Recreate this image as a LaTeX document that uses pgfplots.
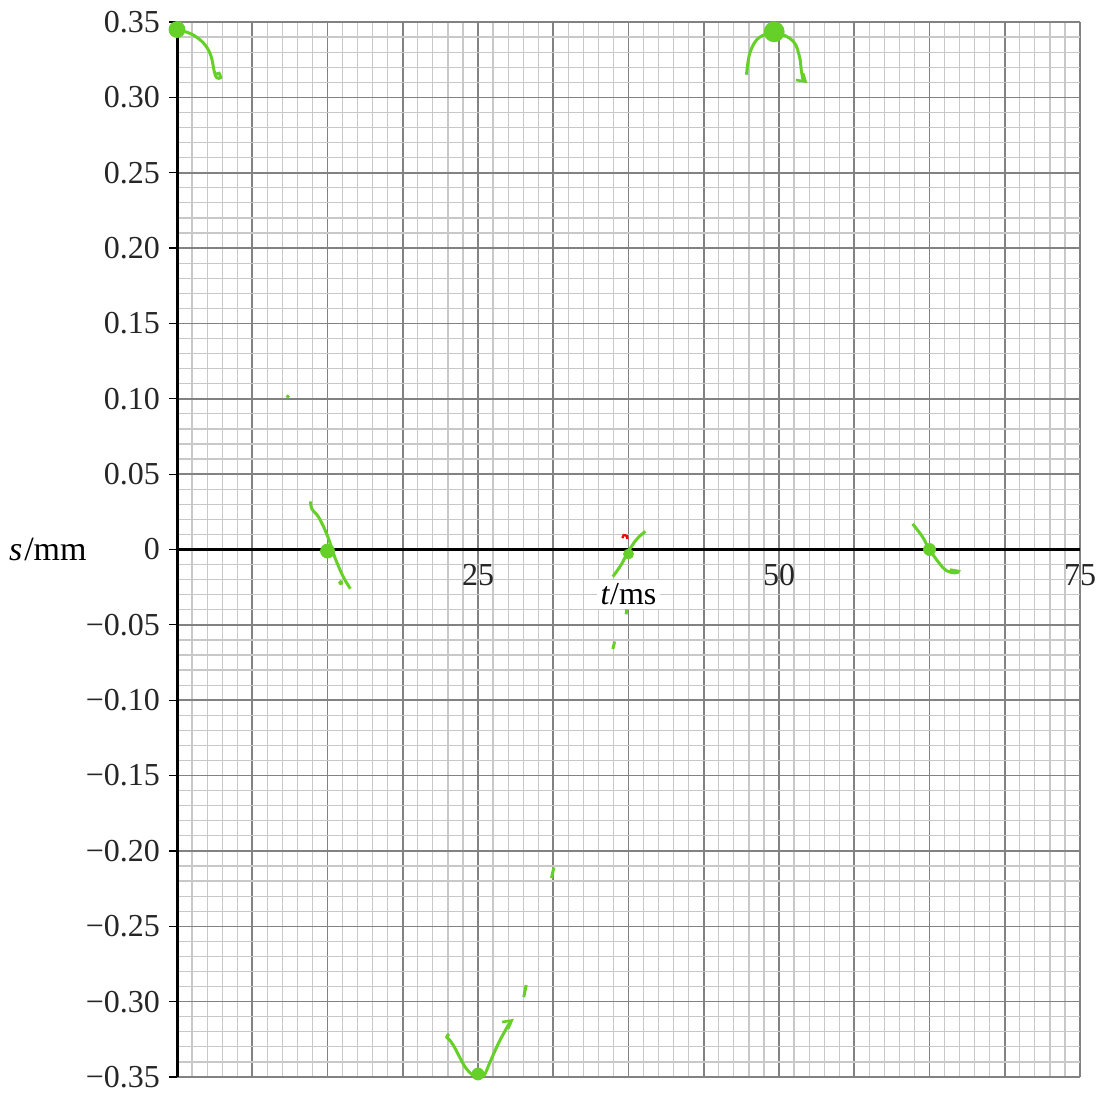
\documentclass[border=0pt]{standalone}
\usepackage{pgfplots}
\pgfplotsset{compat=1.18}
\usepackage{fontspec}
\setmainfont{Liberation Serif}
\definecolor{pen}{RGB}{100,208,40}
\definecolor{majgrid}{RGB}{130,130,130}
\definecolor{mingrid}{RGB}{200,200,200}
\begin{document}
\begin{tikzpicture}
\begin{axis}[
  scale only axis, width=451.5pt, height=527.5pt,
  xmin=0, xmax=75, ymin=-0.35, ymax=0.35,
  axis x line*=middle, axis y line*=left,
  axis line style={line width=1.5pt, black},
  xtick={0,6.25,12.5,18.75,25,31.25,37.5,43.75,50,56.25,62.5,68.75,75},
  xticklabels={,,,,25,,,,50,,,,75},
  minor x tick num=4,
  ytick={-0.35,-0.3,-0.25,-0.2,-0.15,-0.1,-0.05,0,0.05,0.1,0.15,0.2,0.25,0.3,0.35},
  yticklabels={−0.35,−0.30,−0.25,−0.20,−0.15,−0.10,−0.05,0,0.05,0.10,0.15,0.20,0.25,0.30,0.35},
  minor y tick num=4,
  grid=both,
  major grid style={majgrid, line width=0.8pt},
  minor grid style={mingrid, line width=0.6pt},
  tick label style={font=\fontsize{16}{18}\selectfont, text=black!85},
  xtick style={draw=none},
  ytick align=outside,
  major tick length=4pt, minor tick length=0pt,
  ytick style={black, line width=0.6pt},
  yticklabel style={xshift=-1pt},
  xticklabel style={yshift=-4pt},
  xlabel={\textit{t}/ms},
  xlabel style={at={(axis cs:37.5,0)}, anchor=center, yshift=-22.5pt, fill=white, inner sep=2pt, font=\fontsize{16}{18}\selectfont},
  ylabel={\textit{s}\kern1pt/mm},
  ylabel style={at={(axis cs:0,0)}, rotate=-90, anchor=east, xshift=-45pt, inner sep=0pt, font=\fontsize{17}{19}\selectfont},
  clip=false,
]
% mark at (0, 0.345)
\addplot[pen, line width=1.5pt, smooth, tension=0.6] coordinates {(0,0.345) (1.2,0.342) (2.2,0.336) (2.8,0.328) (3.1,0.317) (3.3,0.313) (3.6,0.313) (3.5,0.316) (3.2,0.315)};
\addplot[pen, only marks, mark=*, mark size=4pt] coordinates {(0,0.345)};
% mark near (12.5, 0)
\addplot[pen, line width=1.5pt, smooth, tension=0.6] coordinates {(11.1,0.032) (11.2,0.027) (11.8,0.021) (12.5,0.009) (13.1,-0.005) (13.8,-0.018) (14.4,-0.026)};
\addplot[pen, only marks, mark=*, mark size=3.5pt] coordinates {(12.5,-0.001)};
\addplot[pen, only marks, mark=*, mark size=1pt] coordinates {(13.6,-0.022)};
% mark near (37.5, 0)
\addplot[pen, line width=1.5pt, smooth, tension=0.6] coordinates {(36.2,-0.018) (36.9,-0.010) (37.5,-0.001) (38.2,0.007) (38.9,0.012)};
\addplot[pen, only marks, mark=*, mark size=2.5pt] coordinates {(37.5,-0.003)};
\addplot[red, line width=1.2pt, smooth] coordinates {(37.0,0.0075) (37.1,0.0095) (37.35,0.009) (37.4,0.007)};
% dashes
\addplot[pen, line width=1.5pt] coordinates {(37.45,-0.034) (37.3,-0.043)};
\addplot[pen, line width=1.5pt] coordinates {(36.35,-0.061) (36.2,-0.066)};
\addplot[pen, line width=1.5pt] coordinates {(31.3,-0.211) (31.1,-0.218)};
\addplot[pen, line width=1.5pt] coordinates {(29.0,-0.289) (28.8,-0.297)};
\addplot[pen, only marks, mark=*, mark size=0.8pt] coordinates {(9.2,0.1015)};
% mark at (25, -0.35)
\addplot[pen, line width=1.5pt, smooth, tension=0.6] coordinates {(22.6,-0.3215) (22.4,-0.3235) (22.7,-0.326) (23.1,-0.331) (23.9,-0.343) (24.6,-0.349) (25,-0.350) (25.5,-0.349) (26.0,-0.340) (26.8,-0.326) (27.7,-0.313)};
\addplot[pen, line width=1.3pt] coordinates {(27.0,-0.3135) (27.8,-0.3125) (27.5,-0.318)};
\addplot[pen, only marks, mark=*, mark size=3pt] coordinates {(25,-0.348)};
% mark at (50, 0.345)
\addplot[pen, line width=1.5pt, smooth, tension=0.6] coordinates {(47.3,0.315) (47.6,0.330) (48.4,0.340) (49.9,0.3425) (51.2,0.337) (51.7,0.327) (51.85,0.318) (52.0,0.311)};
\addplot[pen, line width=1.3pt] coordinates {(51.4,0.3115) (52.2,0.3105) (52.0,0.316)};
\addplot[pen, only marks, mark=*, mark size=5pt] coordinates {(49.6,0.3435)};
% mark at (62.5, 0)
\addplot[pen, line width=1.5pt, smooth, tension=0.6] coordinates {(61.1,0.017) (61.9,0.0086) (62.5,0) (63.3,-0.009) (63.9,-0.014) (64.6,-0.0155) (64.9,-0.0145) (64.2,-0.0135)};
\addplot[pen, only marks, mark=*, mark size=3pt] coordinates {(62.5,0)};
\end{axis}
\pgfresetboundingbox
\path[use as bounding box] ([xshift=-88.5pt,yshift=-7.5pt]current axis.south west) rectangle ([xshift=11pt,yshift=11pt]current axis.north east);
\end{tikzpicture}
\end{document}
